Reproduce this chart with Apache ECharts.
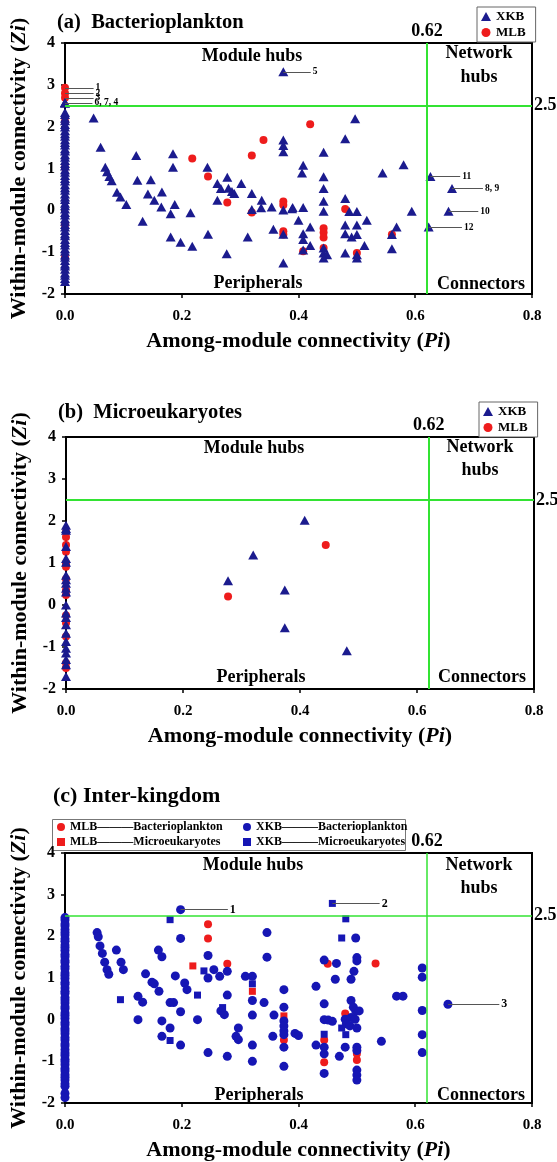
<!DOCTYPE html>
<html>
<head>
<meta charset="utf-8">
<script src="https://cdn.jsdelivr.net/npm/echarts@6.0.0/dist/echarts.min.js"></script>
<style>
  html, body { margin: 0; padding: 0; background: #fff; }
  #chart { width: 557px; height: 1162px; }
</style>
</head>
<body>
<div id="chart"></div>
<script>
const FONT = '"Liberation Serif", "Times New Roman", serif'

// axis ticks
const xTicks = [0, 0.2, 0.4, 0.6, 0.8]
const yTicks = [-2, -1, 0, 1, 2, 3, 4]
const piCut = 0.62
const ziCut = 2.5

// (a) Bacterioplankton -- nodes with Pi = 0 (only Zi listed)
const aZeroXKB = [2.58, 2.57, 2.56, 2.34, 2.29, 2.2, 2.14, 2.05, 1.99, 1.9, 1.83, 1.77, 1.69, 1.62, 1.56, 1.47, 1.42, 1.33, 1.27, 1.19, 1.12, 1.06, 0.97, 0.91, 0.83, 0.76, 0.7, 0.61, 0.54, 0.48, 0.39, 0.32, 0.26, 0.17, 0.11, 0.03, -0.05, -0.11, -0.2, -0.26, -0.34, -0.4, -0.48, -0.56, -0.61, -0.7, -0.77, -0.83, -0.92, -0.98, -1.07, -1.12, -1.2, -1.28, -1.33, -1.41, -1.5, -1.55, -1.63, -1.7]
const aZeroMLB = [2.93, 2.8, 2.69, 2.13, 1.02, -0.34, -1.12]
const aXKB = [
  [0.374, 3.31], [0.049, 2.21], [0.061, 1.51], [0.122, 1.31], [0.185, 1.35], [0.185, 1.03],
  [0.069, 1.03], [0.072, 0.92], [0.076, 0.81], [0.08, 0.71], [0.089, 0.43], [0.095, 0.32],
  [0.105, 0.14], [0.124, 0.72], [0.147, 0.73], [0.142, 0.39], [0.166, 0.44], [0.153, 0.24],
  [0.165, 0.08], [0.188, 0.14], [0.181, -0.08], [0.215, -0.06], [0.133, -0.26], [0.181, -0.64],
  [0.198, -0.76], [0.218, -0.86], [0.244, 1.03], [0.245, -0.57], [0.261, 0.64], [0.278, 0.79],
  [0.267, 0.52], [0.28, 0.53], [0.286, 0.45], [0.29, 0.4], [0.302, 0.64], [0.261, 0.24],
  [0.32, 0.4], [0.337, 0.24], [0.32, 0.02], [0.336, 0.06], [0.354, 0.08], [0.313, -0.64],
  [0.357, -0.45], [0.277, -1.04], [0.374, -1.26], [0.374, 1.68], [0.374, 1.55], [0.374, 1.4],
  [0.374, 0.01], [0.39, 0.07], [0.374, -0.57], [0.497, 2.19], [0.48, 1.71], [0.443, 1.39],
  [0.408, 1.08], [0.406, 0.89], [0.443, 0.8], [0.443, 0.52], [0.443, 0.22], [0.443, -0.02],
  [0.48, 0.28], [0.487, -0.03], [0.5, -0.03], [0.517, -0.24], [0.5, -0.35], [0.48, -0.35],
  [0.48, -0.56], [0.491, -0.64], [0.5, -0.58], [0.513, -0.84], [0.48, -1.02], [0.5, -1.06],
  [0.5, -1.14], [0.443, -0.9], [0.443, -1.02], [0.449, -1.06], [0.443, -1.14], [0.408, 0.07],
  [0.389, 0.04], [0.4, -0.24], [0.42, -0.4], [0.408, -0.56], [0.408, -0.7], [0.42, -0.84],
  [0.408, -0.95], [0.544, 0.89], [0.58, 1.09], [0.594, -0.02], [0.568, -0.4], [0.56, -0.58],
  [0.56, -0.92], [0.626, 0.81], [0.663, 0.52], [0.657, -0.02], [0.623, -0.4]
]
const aMLB = [
  [0.218, 1.24], [0.245, 0.81], [0.32, 1.31], [0.34, 1.68], [0.278, 0.19], [0.32, -0.05],
  [0.374, 0.21], [0.374, 0.13], [0.374, -0.5], [0.374, -0.58], [0.42, 2.06], [0.48, 0.03],
  [0.443, -0.43], [0.443, -0.53], [0.443, -0.65], [0.443, -0.9], [0.5, -1.02], [0.56, -0.58],
  [0.408, -0.98]
]
// labelled nodes: [Pi, Zi, label end Pi, text]
const aTags = [
  [0, 2.93, 0.049, '1'], [0, 2.8, 0.049, '2'], [0, 2.69, 0.049, '3'], [0, 2.57, 0.047, '6, 7, 4'],
  [0.374, 3.31, 0.421, '5'], [0.626, 0.81, 0.677, '11'], [0.663, 0.52, 0.716, '8, 9'],
  [0.657, -0.02, 0.708, '10'], [0.623, -0.4, 0.68, '12']
]

// (b) Microeukaryotes
const bZeroXKB = [1.9, 1.82, 1.78, 1.39, 1.11, 1.02, 0.71, 0.6, 0.52, 0.4, 0.31, 0, -0.19, -0.3, -0.47, -0.67, -0.87, -1.03, -1.14, -1.3, -1.42, -1.7]
const bZeroMLB = [1.74, 1.62, 1.43, 1.27, 1, 0.91, 0.62, 0.36, 0.24, -0.25, -0.43, -0.75, -1.38, -1.5]
const bXKB = [[0.408, 2.02], [0.32, 1.19], [0.277, 0.58], [0.374, 0.36], [0.374, -0.54], [0.48, -1.09]]
const bMLB = [[0.444, 1.43], [0.277, 0.2]]

// (c) Inter-kingdom
const cZeroXKBb = [2.45, 2.39, 2.3, 2.25, 2.16, 2.09, 2.03, 1.94, 1.88, 1.79, 1.73, 1.66, 1.57, 1.51, 1.42, 1.37, 1.28, 1.22, 1.12, 1.06, 0.99, 0.9, 0.85, 0.76, 0.68, 0.63, 0.53, 0.47, 0.4, 0.31, 0.26, 0.16, 0.1, 0.03, -0.06, -0.12, -0.21, -0.27, -0.34, -0.43, -0.49, -0.58, -0.63, -0.72, -0.8, -0.86, -0.95, -1.01, -1.08, -1.17, -1.23, -1.32, -1.38, -1.45, -1.54, -1.6, -1.77, -1.87]
const cZeroMLBb = [2.21, 1.35, -0.15]
const cXKBb = [
  [0.198, 2.64], [0.198, 1.95], [0.055, 2.09], [0.057, 1.99], [0.06, 1.77], [0.064, 1.59],
  [0.068, 1.38], [0.072, 1.2], [0.075, 1.09], [0.088, 1.67], [0.096, 1.38], [0.1, 1.2],
  [0.125, 0.56], [0.133, 0.42], [0.125, 0], [0.138, 1.1], [0.149, 0.9], [0.153, 0.86],
  [0.161, 0.68], [0.16, 1.67], [0.166, 1.51], [0.166, -0.03], [0.166, -0.4], [0.18, -0.2],
  [0.18, 0.41], [0.186, 0.41], [0.198, 0.19], [0.189, 1.05], [0.205, 0.88], [0.209, 0.72],
  [0.198, -0.61], [0.227, 0], [0.245, 1.54], [0.245, 1], [0.255, 1.2], [0.265, 1.04],
  [0.278, 1.16], [0.267, 0.21], [0.273, 0.12], [0.278, 0.59], [0.245, -0.79], [0.278, -0.88],
  [0.297, -0.2], [0.293, -0.4], [0.297, -0.48], [0.309, 1.04], [0.321, 1.04], [0.321, 0.46],
  [0.321, 0.11], [0.321, -0.61], [0.321, -1], [0.341, 0.41], [0.346, 2.09], [0.346, 1.5],
  [0.358, 0.11], [0.356, -0.4], [0.375, 0.72], [0.375, 0.3], [0.375, -0.03], [0.375, -0.15],
  [0.375, -0.27], [0.375, -0.36], [0.375, -0.66], [0.375, -1.12], [0.394, -0.33], [0.4, -0.38],
  [0.498, 1.96], [0.444, 1.43], [0.465, 1.35], [0.5, 1.49], [0.5, 1.41], [0.495, 1.16],
  [0.49, 0.97], [0.463, 0.97], [0.43, 0.8], [0.612, 1.24], [0.612, 1.02], [0.568, 0.565],
  [0.579, 0.565], [0.656, 0.37], [0.612, 0.22], [0.612, -0.36], [0.612, -0.79], [0.49, 0.46],
  [0.494, 0.3], [0.498, 0.21], [0.504, 0.21], [0.444, 0.38], [0.444, 0], [0.451, -0.01],
  [0.458, -0.04], [0.48, 0.01], [0.49, 0.05], [0.497, 0.01], [0.482, -0.1], [0.488, -0.15],
  [0.5, -0.2], [0.43, -0.61], [0.444, -0.66], [0.444, -0.82], [0.444, -1.29], [0.47, -0.88],
  [0.48, -0.66], [0.5, -0.66], [0.5, -0.74], [0.5, -1.21], [0.5, -1.33], [0.5, -1.45],
  [0.542, -0.52]
]
const cXKBm = [
  [0.18, 2.4], [0.095, 0.48], [0.18, -0.5], [0.227, 0.59], [0.238, 1.17], [0.27, 0.29],
  [0.321, 0.86], [0.458, 2.79], [0.481, 2.42], [0.474, 1.96], [0.474, -0.2], [0.481, -0.36],
  [0.444, -0.35]
]
const cMLBb = [
  [0.245, 2.29], [0.245, 1.95], [0.278, 1.34], [0.375, -0.49], [0.45, 1.34], [0.532, 1.35],
  [0.48, 0.15], [0.444, -0.49], [0.444, -1.02], [0.5, -0.82], [0.5, -0.97]
]
const cMLBm = [[0.219, 1.29], [0.321, 0.68], [0.375, 0.09]]
const cTags = [[0.198, 2.64, 0.279, '1'], [0.458, 2.79, 0.539, '2'], [0.656, 0.37, 0.744, '3']]

const NAVY = '#1b1b8e'
const BLUE = '#1616b4'
const RED = '#ee1c1c'
const GREEN = '#33e333'

// layout of the three panels
const grids = [
  {left: 65, right: 25, top: 43, height: 251},
  {left: 66, right: 23, top: 437, height: 252},
  {left: 65, right: 25, top: 853, height: 253}
]

const bold = (size) => ({fontFamily: FONT, fontWeight: 'bold', fontSize: size, color: '#000'})

const xAxes = grids.map((g, i) => ({
  gridIndex: i, type: 'value', min: xTicks[0], max: xTicks[xTicks.length - 1], interval: 0.2,
  axisLine: {show: true, onZero: false, lineStyle: {color: '#000', width: 2}},
  axisTick: {show: true, length: 4, lineStyle: {color: '#000', width: 1.5}},
  splitLine: {show: false},
  axisLabel: Object.assign(bold(15), {margin: 15, formatter: v => v.toFixed(1)}),
  name: 'Among-module connectivity ({i|Pi})',
  nameLocation: 'middle', nameGap: 36,
  nameTextStyle: Object.assign(bold(22), {rich: {i: Object.assign(bold(22), {fontStyle: 'italic'})}})
}))

const yAxes = grids.map((g, i) => ({
  gridIndex: i, type: 'value', min: yTicks[0], max: yTicks[yTicks.length - 1], interval: 1,
  axisLine: {show: true, onZero: false, lineStyle: {color: '#000', width: 2}},
  axisTick: {show: true, length: 4, lineStyle: {color: '#000', width: 1.5}},
  splitLine: {show: false},
  axisLabel: Object.assign(bold(16), {margin: 10}),
  name: 'Within-module connectivity ({i|Zi})',
  nameLocation: 'middle', nameGap: 29,
  nameTextStyle: Object.assign(bold(22), {rich: {i: Object.assign(bold(22), {fontStyle: 'italic'})}})
}))

const zeroCol = (arr) => arr.map(y => [0, y])

const scatter = (name, idx, data, symbol, size, color) => ({
  name: name, type: 'scatter', xAxisIndex: idx, yAxisIndex: idx,
  data: data, symbol: symbol, symbolSize: size,
  itemStyle: {color: color, opacity: 1},
  silent: true
})

// leader lines from a node to its number
const tagLines = (tags, fontSize) => ({
  silent: true, symbol: ['none', 'none'], animation: false,
  lineStyle: {color: '#555', width: 1, type: 'solid'},
  label: Object.assign(bold(fontSize), {show: true, position: 'end', distance: 2, formatter: '{b}'}),
  data: tags.map(t => [{name: t[3], coord: [t[0], t[1]]}, {name: t[3], coord: [t[2], t[1]]}])
})

// green thresholds Pi = 0.62 and Zi = 2.5
const guides = (idx, width) => ({
  type: 'scatter', xAxisIndex: idx, yAxisIndex: idx, data: [], silent: true,
  markLine: {
    silent: true, symbol: ['none', 'none'], animation: false,
    lineStyle: {color: GREEN, width: width, type: 'solid'},
    label: Object.assign(bold(18), {show: true, position: 'end', distance: 3}),
    data: [
      {xAxis: piCut, label: {formatter: String(piCut)}},
      {yAxis: ziCut, label: {formatter: String(ziCut), distance: 2}}
    ]
  }
})

const aXKBSeries = scatter('XKB', 0, zeroCol(aZeroXKB).concat(aXKB), 'triangle', [10, 9], NAVY)
aXKBSeries.markLine = tagLines(aTags, 9.5)
const cXKBbSeries = scatter('XKB———Bacterioplankton', 2, zeroCol(cZeroXKBb).concat(cXKBb), 'circle', 9, BLUE)
cXKBbSeries.markLine = tagLines(cTags, 12)

const series = [
  scatter('MLB', 0, zeroCol(aZeroMLB).concat(aMLB), 'circle', 8, RED),
  aXKBSeries,
  guides(0, 2),
  scatter('MLB', 1, zeroCol(bZeroMLB).concat(bMLB), 'circle', 8, RED),
  scatter('XKB', 1, zeroCol(bZeroXKB).concat(bXKB), 'triangle', [10, 9], NAVY),
  guides(1, 2),
  scatter('MLB———Bacterioplankton', 2, zeroCol(cZeroMLBb).concat(cMLBb), 'circle', 8, RED),
  scatter('MLB———Microeukaryotes', 2, cMLBm, 'rect', 7, RED),
  cXKBbSeries,
  scatter('XKB———Microeukaryotes', 2, cXKBm, 'rect', 7, BLUE),
  guides(2, 1.5)
]

const smallLegend = (left, top) => ({
  orient: 'vertical', left: left, top: top, selectedMode: false,
  data: [{name: 'XKB', icon: 'triangle'}, {name: 'MLB', icon: 'circle'}],
  itemWidth: 10, itemHeight: 9, itemGap: 3, padding: [3, 10, 3, 4],
  borderColor: '#666', borderWidth: 1, backgroundColor: '#fff',
  textStyle: bold(13)
})
const pairLegend = (left, names, icons) => ({
  orient: 'vertical', left: left, top: 821, selectedMode: false,
  data: names.map((n, i) => ({name: n, icon: icons[i]})),
  itemWidth: 8, itemHeight: 8, itemGap: 3, padding: 0,
  textStyle: bold(12)
})

const txt = (x, y, text, size, align) => ({
  type: 'text', x: x, y: y, silent: true,
  style: {text: text, font: 'bold ' + size + 'px ' + FONT, fill: '#000',
          textAlign: align || 'center', textVerticalAlign: 'middle'}
})

const graphic = [
  txt(57, 23, '(a)  Bacterioplankton', 20.5, 'left'),
  txt(58, 413, '(b)  Microeukaryotes', 20.5, 'left'),
  txt(53, 796, '(c) Inter-kingdom', 22, 'left'),
  txt(252, 56, 'Module hubs', 18), txt(479, 53, 'Network', 18), txt(479, 77, 'hubs', 18),
  txt(258, 283, 'Peripherals', 18), txt(481, 284, 'Connectors', 18),
  txt(254, 448, 'Module hubs', 18), txt(480, 447, 'Network', 18), txt(480, 470, 'hubs', 18),
  txt(261, 677, 'Peripherals', 18), txt(482, 677, 'Connectors', 18),
  txt(253, 865, 'Module hubs', 18), txt(479, 865, 'Network', 18), txt(479, 888, 'hubs', 18),
  txt(259, 1095, 'Peripherals', 18), txt(481, 1095, 'Connectors', 18),
  {type: 'rect', silent: true, shape: {x: 52.5, y: 819.5, width: 353, height: 31},
   style: {fill: 'none', stroke: '#777', lineWidth: 1}}
]

const chart = echarts.init(document.getElementById('chart'), null, {renderer: 'canvas'})
chart.setOption({
  animation: false,
  backgroundColor: '#fff',
  grid: grids.map(g => Object.assign({show: true, borderColor: '#000', borderWidth: 2, backgroundColor: 'transparent'}, g)),
  xAxis: xAxes,
  yAxis: yAxes,
  legend: [
    smallLegend(477, 7),
    smallLegend(479, 402),
    pairLegend(57, ['MLB———Bacterioplankton', 'MLB———Microeukaryotes'], ['circle', 'rect']),
    pairLegend(243, ['XKB———Bacterioplankton', 'XKB———Microeukaryotes'], ['circle', 'rect'])
  ],
  graphic: graphic,
  series: series
})
</script>
</body>
</html>
